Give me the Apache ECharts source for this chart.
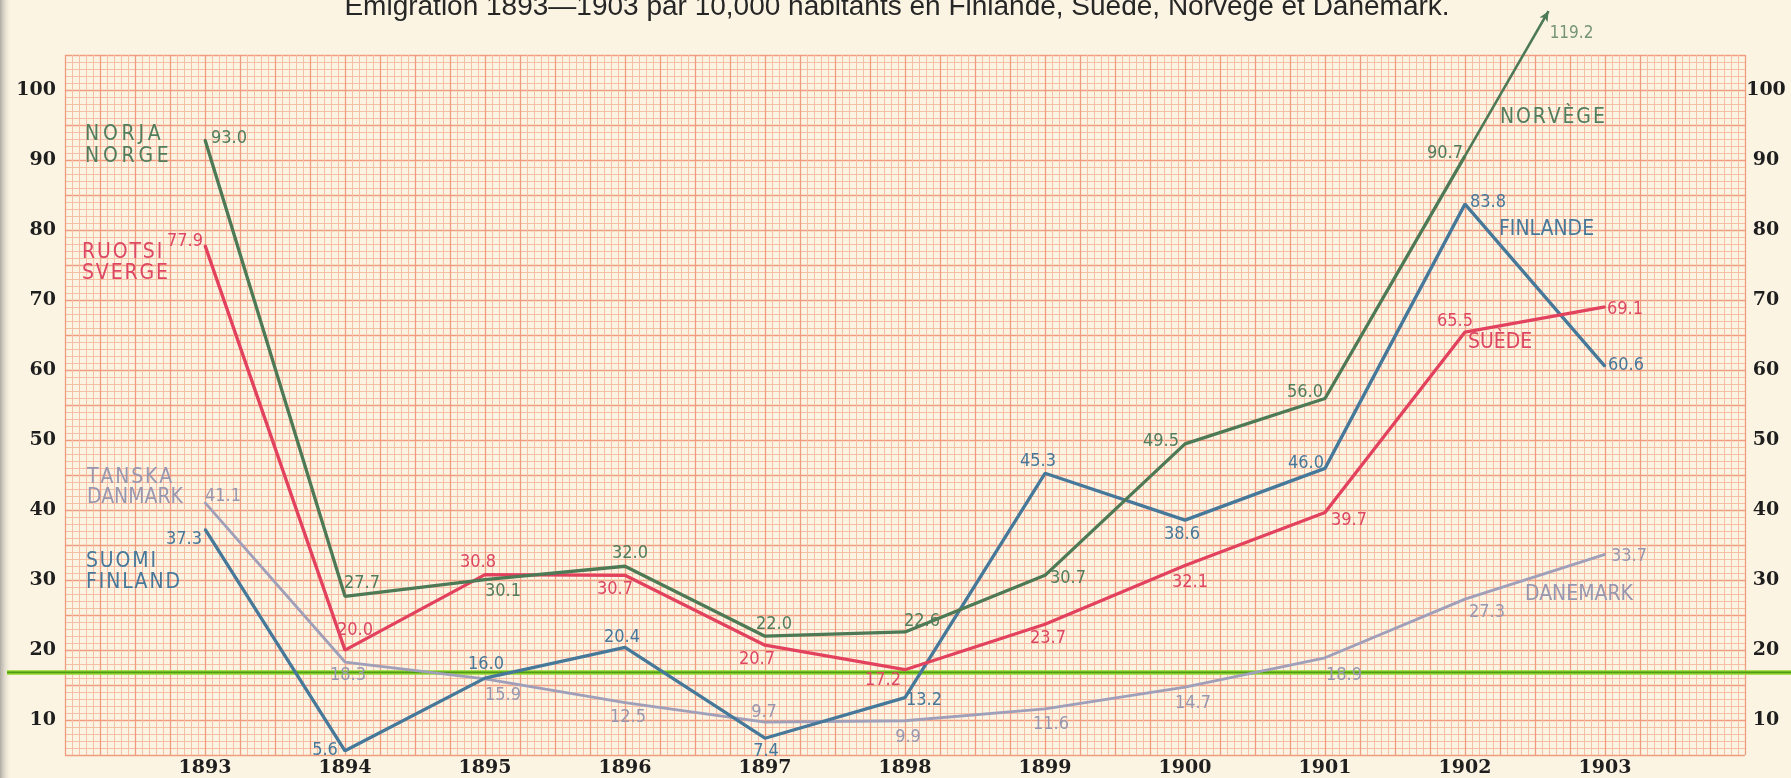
<!DOCTYPE html>
<html>
<head>
<meta charset="utf-8">
<script src="https://cdn.jsdelivr.net/npm/echarts@6/dist/echarts.min.js"></script>
<style>
html,body{margin:0;padding:0;background:#fcf4e3;}
#c{width:1791px;height:778px;}
</style>
</head>
<body>
<div id="c"></div>
<script>
// ---------------- data ----------------
const title = 'Émigration 1893—1903 par 10,000 habitants en Finlande, Suède, Norvège et Danemark.';
const years = [1893, 1894, 1895, 1896, 1897, 1898, 1899, 1900, 1901, 1902, 1903];
const norway  = [93.0, 27.7, 30.1, 32.0, 22.0, 22.6, 30.7, 49.5, 56.0, 90.7];
const norway1903 = 119.2;            // off the sheet, shown as an arrow
const sweden  = [77.9, 20.0, 30.8, 30.7, 20.7, 17.2, 23.7, 32.1, 39.7, 65.5, 69.1];
const finland = [37.3, 5.6, 16.0, 20.4, 7.4, 13.2, 45.3, 38.6, 46.0, 83.8, 60.6];
const denmark = [41.1, 18.3, 15.9, 12.5, 9.7, 9.9, 11.6, 14.7, 18.9, 27.3, 33.7];
const yTicks  = [10, 20, 30, 40, 50, 60, 70, 80, 90, 100];
const refLevel = 16.8;               // green reference line

// ---------------- label offsets (style) ----------------
const norwayOff  = [[24,-1],[17,-13],[18,12],[5,-13],[9,-12],[17,-11],[23,3],[-24,-3],[-20,-6],[-20,-3]];
const swedenOff  = [[-20,-4],[10,-20],[-7,-12],[-10,14],[-8,14],[-22,11],[3,14],[5,17],[24,8],[-10,-11],[20,2]];
const finlandOff = [[-21,10],[-20,0],[1,-14],[-3,-10],[1,13],[19,3],[-7,-12],[-3,14],[-19,-5],[23,-2],[21,-1]];
const denmarkOff = [[18,-6],[3,13],[18,17],[3,15],[-1,-10],[3,17],[6,15],[8,16],[19,17],[22,13],[24,2]];

// ---------------- layout / style ----------------
const W = 1791, H = 778;
const PAPER = {left: 65, right: 46, top: 55, bottom: 23};
const X_MIN = 1892, X_MAX = 1904, Y_MIN = 5, Y_MAX = 105, DATA_Y_MAX = 113;
const pxPerUnit = (H - PAPER.top - PAPER.bottom) / (Y_MAX - Y_MIN);
const dataTop = PAPER.top - (DATA_Y_MAX - Y_MAX) * pxPerUnit;
const ARROW_TOP = 111.4;   // level where the Norway arrow stops

const FONT_SERIF = "'DejaVu Serif', 'Liberation Serif', serif";
const FONT_COND = "'DejaVu Sans Condensed', 'Liberation Sans Narrow', 'DejaVu Sans', sans-serif";
const C = {
  norway:  {line: '#4d7955', label: '#527d5c'},
  sweden:  {line: '#e2425d', label: '#dd4763'},
  finland: {line: '#46789a', label: '#47789a'},
  denmark: {line: '#a09fb9', label: '#9897b0'}
};
const FINE = '#f6bea5', BOLD = '#ef9c7f';

function mkSeries(name, vals, offs, col, width, z) {
  return {
    type: 'line', name: name, xAxisIndex: 1, yAxisIndex: 2, z: z,
    data: vals.map((v, i) => ({value: [years[i], v], label: {offset: offs[i]}})),
    symbol: 'circle', symbolSize: 2, showSymbol: true,
    lineStyle: {color: col.line, width: width},
    itemStyle: {color: col.line},
    label: {
      show: true, position: 'inside', color: col.label,
      fontFamily: FONT_COND, fontSize: 18,
      formatter: p => p.value[1].toFixed(1)
    },
    silent: true, animation: false
  };
}

const chart = echarts.init(document.getElementById('c'));

// Norway continuation arrow: continues the 1901→1902 direction up to ARROW_TOP
const nLast = norway[norway.length - 1], nPrev = norway[norway.length - 2];
const nLastYear = years[norway.length - 1];
const slope = nLast - nPrev;
const tip = [nLastYear + (ARROW_TOP - nLast) / slope, ARROW_TOP];

const norwaySeries = mkSeries('Norvège', norway, norwayOff, C.norway, 3.3, 6);
norwaySeries.markLine = {
  silent: true, animation: false,
  symbol: ['none', 'arrow'], symbolSize: [7, 10],
  lineStyle: {color: C.norway.line, width: 2.6, type: 'solid'},
  label: {show: false},
  data: [[{coord: [nLastYear, nLast]}, {coord: tip}]]
};

const AXIS_FONT = {fontFamily: FONT_SERIF, fontWeight: 'bold', fontSize: 19, color: '#1e1e1e'};
const valueAxisCommon = {
  type: 'value', min: Y_MIN, max: Y_MAX, interval: 5,
  axisLine: {show: false}, axisTick: {show: false},
  axisLabel: Object.assign({}, AXIS_FONT, {formatter: v => yTicks.includes(v) ? String(v) : ''})
};

// [text, x, y, colour, letter gap char]
const annotations = [
  ['NORJA', 85, 135, C.norway.label, '\u2009'], ['NORGE', 85, 157, C.norway.label, '\u2009'],
  ['RUOTSI', 82, 253, C.sweden.label, '\u200A'], ['SVERGE', 82, 274, C.sweden.label, '\u200A'],
  ['TANSKA', 87, 478, C.denmark.label, '\u200A'], ['DANMARK', 87, 498, C.denmark.label, ''],
  ['SUOMI', 86, 562, C.finland.label, '\u200A'], ['FINLAND', 86, 583, C.finland.label, '\u200A'],
  ['NORVÈGE', 1500, 118, C.norway.label, '\u200A'],
  ['FINLANDE', 1499, 230, C.finland.label, ''],
  ['SUÈDE', 1468, 343, C.sweden.label, ''],
  ['DANEMARK', 1525, 595, C.denmark.label, '']
];

const graphics = [
  {type: 'rect', left: 0, top: 0, z: -10, silent: true,
   shape: {width: 12, height: H},
   style: {fill: new echarts.graphic.LinearGradient(0, 0, 1, 0, [
     {offset: 0, color: 'rgba(150,146,140,0.75)'},
     {offset: 0.4, color: 'rgba(190,186,178,0.45)'},
     {offset: 1, color: 'rgba(252,244,227,0)'}])}},
  {type: 'text', x: 897, y: 21, silent: true, z: 10,
   style: {text: title, textAlign: 'center', textVerticalAlign: 'bottom',
     font: "normal 28px 'Liberation Sans', Arial, sans-serif", fill: '#262626'}}
].concat(annotations.map(a => ({
  type: 'text', x: a[1], y: a[2], silent: true, z: 10,
  style: {text: a[0].split('').join(a[4]), textAlign: 'left', textVerticalAlign: 'middle',
    font: "21px " + FONT_COND, fill: a[3]}
})));

const option = {
  animation: false,
  backgroundColor: '#fcf4e3',
  grid: [
    {left: PAPER.left, right: PAPER.right, top: PAPER.top, bottom: PAPER.bottom, show: false},
    {left: PAPER.left, right: PAPER.right, top: dataTop, bottom: PAPER.bottom, show: false},
    {left: 7, right: 0, top: PAPER.top, bottom: PAPER.bottom, show: false}
  ],
  xAxis: [
    {gridIndex: 0, type: 'value', min: X_MIN, max: X_MAX, interval: 0.25,
     axisLine: {show: false}, axisTick: {show: false},
     axisLabel: Object.assign({}, AXIS_FONT, {margin: 4,
       formatter: v => years.includes(v) ? String(v) : ''}),
     splitLine: {show: true, lineStyle: {color: BOLD, width: 1.3}},
     minorTick: {show: false, splitNumber: 5},
     minorSplitLine: {show: true, lineStyle: {color: FINE, width: 1}}},
    {gridIndex: 1, type: 'value', min: X_MIN, max: X_MAX, show: false},
    {gridIndex: 2, type: 'value', min: 0, max: 1, show: false}
  ],
  yAxis: [
    Object.assign({}, valueAxisCommon, {gridIndex: 0, position: 'left',
      axisLabel: Object.assign({}, valueAxisCommon.axisLabel, {margin: 9}),
      splitLine: {show: true, lineStyle: {color: BOLD, width: 1.3}},
      minorTick: {show: false, splitNumber: 5},
      minorSplitLine: {show: true, lineStyle: {color: FINE, width: 1}}}),
    Object.assign({}, valueAxisCommon, {gridIndex: 0, position: 'right',
      axisLabel: Object.assign({}, valueAxisCommon.axisLabel, {margin: 21, align: 'center'}),
      splitLine: {show: false}}),
    {gridIndex: 1, type: 'value', min: Y_MIN, max: DATA_Y_MAX, show: false},
    {gridIndex: 2, type: 'value', min: Y_MIN, max: Y_MAX, show: false}
  ],
  series: [
    {type: 'line', xAxisIndex: 2, yAxisIndex: 3, data: [[0, refLevel], [1, refLevel]],
     symbol: 'none', lineStyle: {color: '#93d92c', width: 4.5}, silent: true, z: 1},
    {type: 'line', xAxisIndex: 2, yAxisIndex: 3, data: [[0, refLevel], [1, refLevel]],
     symbol: 'none', lineStyle: {color: '#4f9a18', width: 1.6}, silent: true, z: 1},
    mkSeries('Danemark', denmark, denmarkOff, C.denmark, 2.8, 3),
    mkSeries('Finlande', finland, finlandOff, C.finland, 3.3, 4),
    mkSeries('Suède', sweden, swedenOff, C.sweden, 3.3, 5),
    norwaySeries,
    {type: 'scatter', xAxisIndex: 1, yAxisIndex: 2, z: 7, silent: true,
     data: [{value: tip}], symbolSize: 0,
     label: {show: true, position: 'inside', offset: [23, 22], color: C.norway.label,
       fontFamily: FONT_COND, fontSize: 17, formatter: () => norway1903.toFixed(1)}}
  ],
  graphic: graphics
};
chart.setOption(option);
</script>
</body>
</html>
